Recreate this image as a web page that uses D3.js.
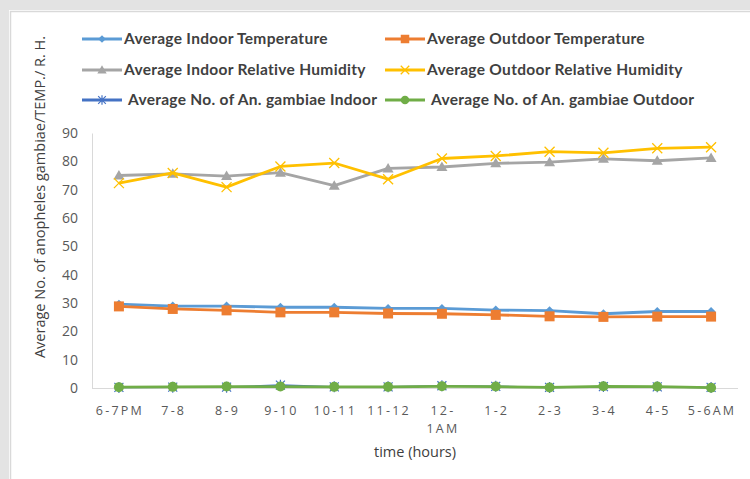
<!DOCTYPE html>
<html>
<head>
<meta charset="utf-8">
<script src="https://cdn.jsdelivr.net/npm/d3@7/dist/d3.min.js"></script>
<style>
  html, body { margin: 0; padding: 0; background: #e3e3e3; }
  svg { display: block; }
</style>
</head>
<body>
<svg id="chart" width="750" height="479"></svg>
<script>
// Hourly time slots through the night
const hours = ["6-7PM", "7-8", "8-9", "9-10", "10-11", "11-12", "12-\n1AM", "1-2", "2-3", "3-4", "4-5", "5-6AM"];

const indoorTemp     = [29.6, 28.9, 28.9, 28.5, 28.5, 28.1, 28.1, 27.5, 27.3, 26.2, 27.0, 27.0];
const outdoorTemp    = [28.8, 27.9, 27.4, 26.7, 26.7, 26.3, 26.2, 25.8, 25.3, 25.1, 25.2, 25.2];
const indoorRH       = [75.0, 75.6, 74.8, 76.0, 71.4, 77.5, 78.0, 79.3, 79.7, 80.9, 80.2, 81.2];
const outdoorRH      = [72.3, 75.9, 70.9, 78.2, 79.4, 73.7, 81.0, 81.9, 83.4, 83.0, 84.6, 85.0];
const gambiaeIndoor  = [0.2, 0.3, 0.3, 1.0, 0.4, 0.4, 0.8, 0.6, 0.2, 0.5, 0.4, 0.2];
const gambiaeOutdoor = [0.3, 0.4, 0.5, 0.5, 0.4, 0.4, 0.6, 0.5, 0.2, 0.6, 0.5, 0.1];

const yTicks = [0, 10, 20, 30, 40, 50, 60, 70, 80, 90];

const series = [
  { name: "Average Indoor Temperature",          values: indoorTemp,     color: "#5B9BD5", marker: "diamond" },
  { name: "Average Outdoor Temperature",         values: outdoorTemp,    color: "#ED7D31", marker: "square" },
  { name: "Average Indoor Relative Humidity",    values: indoorRH,       color: "#A5A5A5", marker: "triangle" },
  { name: "Average Outdoor Relative Humidity",   values: outdoorRH,      color: "#FFC000", marker: "x" },
  { name: "Average No. of An. gambiae Indoor",   values: gambiaeIndoor,  color: "#4472C4", marker: "star" },
  { name: "Average No. of An. gambiae Outdoor",  values: gambiaeOutdoor, color: "#70AD47", marker: "circle" }
];

const svg = d3.select("#chart");

// white chart panel with a soft frame
svg.append("rect").attr("x", 9).attr("y", 10).attr("width", 741).attr("height", 469).attr("fill", "#ffffff");
svg.append("path").attr("d", "M10.5,479 V11.5 H750").attr("fill", "none").attr("stroke", "#d9d9d9").attr("stroke-width", 1.5);

const plot = { left: 92, right: 738, top: 133, bottom: 388 };

const x = d3.scalePoint().domain(hours).range([plot.left, plot.right]).padding(0.5);
const y = d3.scaleLinear().domain([0, 90]).range([plot.bottom, plot.top]);

// axes
const yAxis = svg.append("g").attr("transform", `translate(${plot.left},0)`)
  .call(d3.axisLeft(y).tickValues(yTicks).tickSize(0).tickPadding(14));
yAxis.select(".domain").attr("stroke", "#d9d9d9").attr("stroke-width", 1);
yAxis.selectAll("text").attr("fill", "#595959").attr("font-family", "'Open Sans', sans-serif").attr("font-size", 14);

const xAxis = svg.append("g").attr("transform", `translate(0,${plot.bottom})`)
  .call(d3.axisBottom(x).tickSize(0).tickPadding(0).tickFormat(""));
xAxis.select(".domain").attr("stroke", "#d9d9d9").attr("stroke-width", 1)
  .attr("d", `M${plot.left},0.5H${plot.right}`);

// category labels (letter-spaced, may wrap onto two lines)
const xl = svg.append("g");
hours.forEach(h => {
  const t = xl.append("text")
    .attr("x", x(h)).attr("y", plot.bottom + 27)
    .attr("text-anchor", "middle")
    .attr("fill", "#595959")
    .attr("font-family", "'Open Sans', sans-serif")
    .attr("font-size", 12.5)
    .attr("letter-spacing", 2.2);
  h.split("\n").forEach((line, i) => {
    t.append("tspan").attr("x", x(h) + 1).attr("dy", i === 0 ? 0 : 18).text(line);
  });
});

// axis titles
svg.append("text")
  .attr("x", 415).attr("y", 457)
  .attr("text-anchor", "middle")
  .attr("fill", "#404040")
  .attr("font-family", "'Open Sans', sans-serif")
  .attr("font-size", 14.5)
  .text("time (hours)");

svg.append("text")
  .attr("transform", "translate(45,197) rotate(-90)")
  .attr("text-anchor", "middle")
  .attr("fill", "#404040")
  .attr("font-family", "'Open Sans', sans-serif")
  .attr("font-size", 14.5)
  .text("Average No. of anopheles gambiae/TEMP./ R. H.");

// marker shapes
function drawMarker(g, type, cx, cy, color, s) {
  s = s || 1;
  switch (type) {
    case "diamond":
      g.append("path").attr("d", `M${cx},${cy - 4.5 * s}L${cx + 4.5 * s},${cy}L${cx},${cy + 4.5 * s}L${cx - 4.5 * s},${cy}Z`).attr("fill", color);
      break;
    case "square":
      g.append("rect").attr("x", cx - 5 * s).attr("y", cy - 5 * s).attr("width", 10 * s).attr("height", 10 * s).attr("fill", color);
      break;
    case "triangle":
      g.append("path").attr("d", `M${cx},${cy - 5.5 * s}L${cx + 5.5 * s},${cy + 4 * s}L${cx - 5.5 * s},${cy + 4 * s}Z`).attr("fill", color);
      break;
    case "x":
      g.append("path").attr("d", `M${cx - 5 * s},${cy - 5 * s}L${cx + 5 * s},${cy + 5 * s}M${cx + 5 * s},${cy - 5 * s}L${cx - 5 * s},${cy + 5 * s}`)
        .attr("stroke", color).attr("stroke-width", 1.3).attr("fill", "none");
      break;
    case "star":
      g.append("path").attr("d", `M${cx - 4.5 * s},${cy - 4.5 * s}L${cx + 4.5 * s},${cy + 4.5 * s}M${cx + 4.5 * s},${cy - 4.5 * s}L${cx - 4.5 * s},${cy + 4.5 * s}M${cx},${cy - 5.5 * s}L${cx},${cy + 5.5 * s}`)
        .attr("stroke", color).attr("stroke-width", 1.2).attr("fill", "none");
      break;
    case "circle":
      g.append("circle").attr("cx", cx).attr("cy", cy).attr("r", 5 * s).attr("fill", color);
      break;
  }
}

// lines and markers
const line = d3.line().x((d, i) => x(hours[i])).y(d => y(d));
const plotG = svg.append("g");
series.forEach(s => {
  const g = plotG.append("g");
  g.append("path").datum(s.values).attr("d", line)
    .attr("fill", "none").attr("stroke", s.color)
    .attr("stroke-width", s.marker === "star" ? 1.6 : 2.8)
    .attr("stroke-linejoin", "round");
  s.values.forEach((v, i) => drawMarker(g, s.marker, x(hours[i]), y(v), s.color));
});

// legend
const legendPos = [
  [82, 39], [385, 39],
  [82, 70], [385, 70],
  [82, 100], [385, 100]
];
const legend = svg.append("g");
series.forEach((s, i) => {
  const [lx, ly] = legendPos[i];
  legend.append("line").attr("x1", lx).attr("x2", lx + 40).attr("y1", ly).attr("y2", ly)
    .attr("stroke", s.color).attr("stroke-width", 2.8);
  drawMarker(legend, s.marker, lx + 20, ly, s.color, 0.85);
  legend.append("text")
    .attr("x", lx + (i >= 4 ? 46 : 42)).attr("y", ly + 5)
    .attr("fill", "#404040")
    .attr("font-family", "Lato, sans-serif")
    .attr("font-weight", "bold")
    .attr("font-size", 15.5)
    .attr("letter-spacing", 0.3)
    .text(s.name);
});
</script>
</body>
</html>
